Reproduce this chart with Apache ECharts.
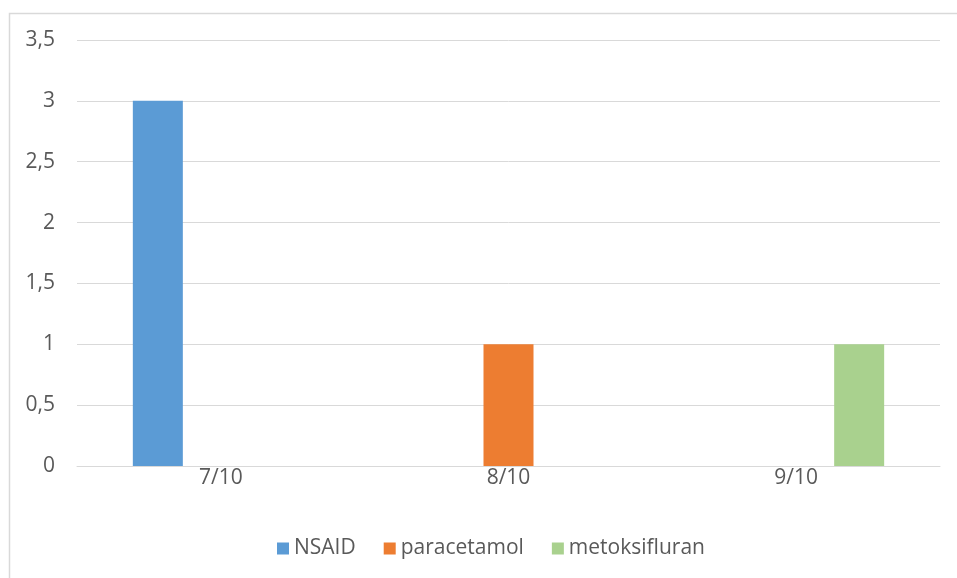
<!DOCTYPE html>
<html>
<head>
<meta charset="utf-8">
<script src="https://cdn.jsdelivr.net/npm/echarts@6/dist/echarts.min.js"></script>
<style>
  html, body { margin: 0; padding: 0; background: #ffffff; }
  #chart { width: 957px; height: 578px; }
</style>
</head>
<body>
<div id="chart"></div>
<script>
// Categories (dates) and values per treatment
const categories = ['7/10', '8/10', '9/10'];
const nsaid = [3, 0, 0];
const paracetamol = [0, 1, 0];
const metoksifluran = [0, 0, 1];
const seriesNames = ['NSAID', 'paracetamol', 'metoksifluran'];
const seriesColors = ['#5b9bd5', '#ed7d31', '#a9d18e'];

const textColor = '#595959';
const fontFamily = '"Open Sans", sans-serif';
const fontSize = 21;

const chart = echarts.init(document.getElementById('chart'), null, { renderer: 'canvas' });

function barSeries(name, data, color) {
  return {
    name: name,
    type: 'bar',
    data: data,
    barWidth: 50,
    barGap: '26%',
    itemStyle: { color: color },
    emphasis: { disabled: true }
  };
}

chart.setOption({
  animation: false,
  backgroundColor: '#ffffff',
  textStyle: { fontFamily: fontFamily },
  graphic: [{
    type: 'rect',
    left: 7, top: 11,
    shape: { width: 960, height: 580 },
    style: { fill: 'none', stroke: '#d9d9d9', lineWidth: 1.5 },
    silent: true
  }],
  grid: { left: 77, right: 17, top: 40, bottom: 112, containLabel: false },
  legend: {
    top: 538,
    left: 277,
    padding: 0,
    itemWidth: 12,
    itemHeight: 12,
    itemGap: 28,
    icon: 'rect',
    textStyle: { color: textColor, fontSize: fontSize, fontFamily: fontFamily },
    data: seriesNames
  },
  xAxis: {
    type: 'category',
    data: categories,
    axisLine: { show: true, lineStyle: { color: '#d9d9d9', width: 1 } },
    axisTick: { show: false },
    axisLabel: { color: textColor, fontSize: fontSize, margin: 2, fontFamily: fontFamily }
  },
  yAxis: {
    type: 'value',
    min: 0,
    max: 3.5,
    interval: 0.5,
    axisLine: { show: false },
    axisTick: { show: false },
    splitLine: { lineStyle: { color: '#d9d9d9', width: 1 } },
    axisLabel: {
      color: textColor,
      fontSize: fontSize,
      margin: 22,
      fontFamily: fontFamily,
      formatter: v => String(v).replace('.', ',')
    }
  },
  series: [
    barSeries(seriesNames[0], nsaid, seriesColors[0]),
    barSeries(seriesNames[1], paracetamol, seriesColors[1]),
    barSeries(seriesNames[2], metoksifluran, seriesColors[2])
  ]
});
</script>
</body>
</html>
